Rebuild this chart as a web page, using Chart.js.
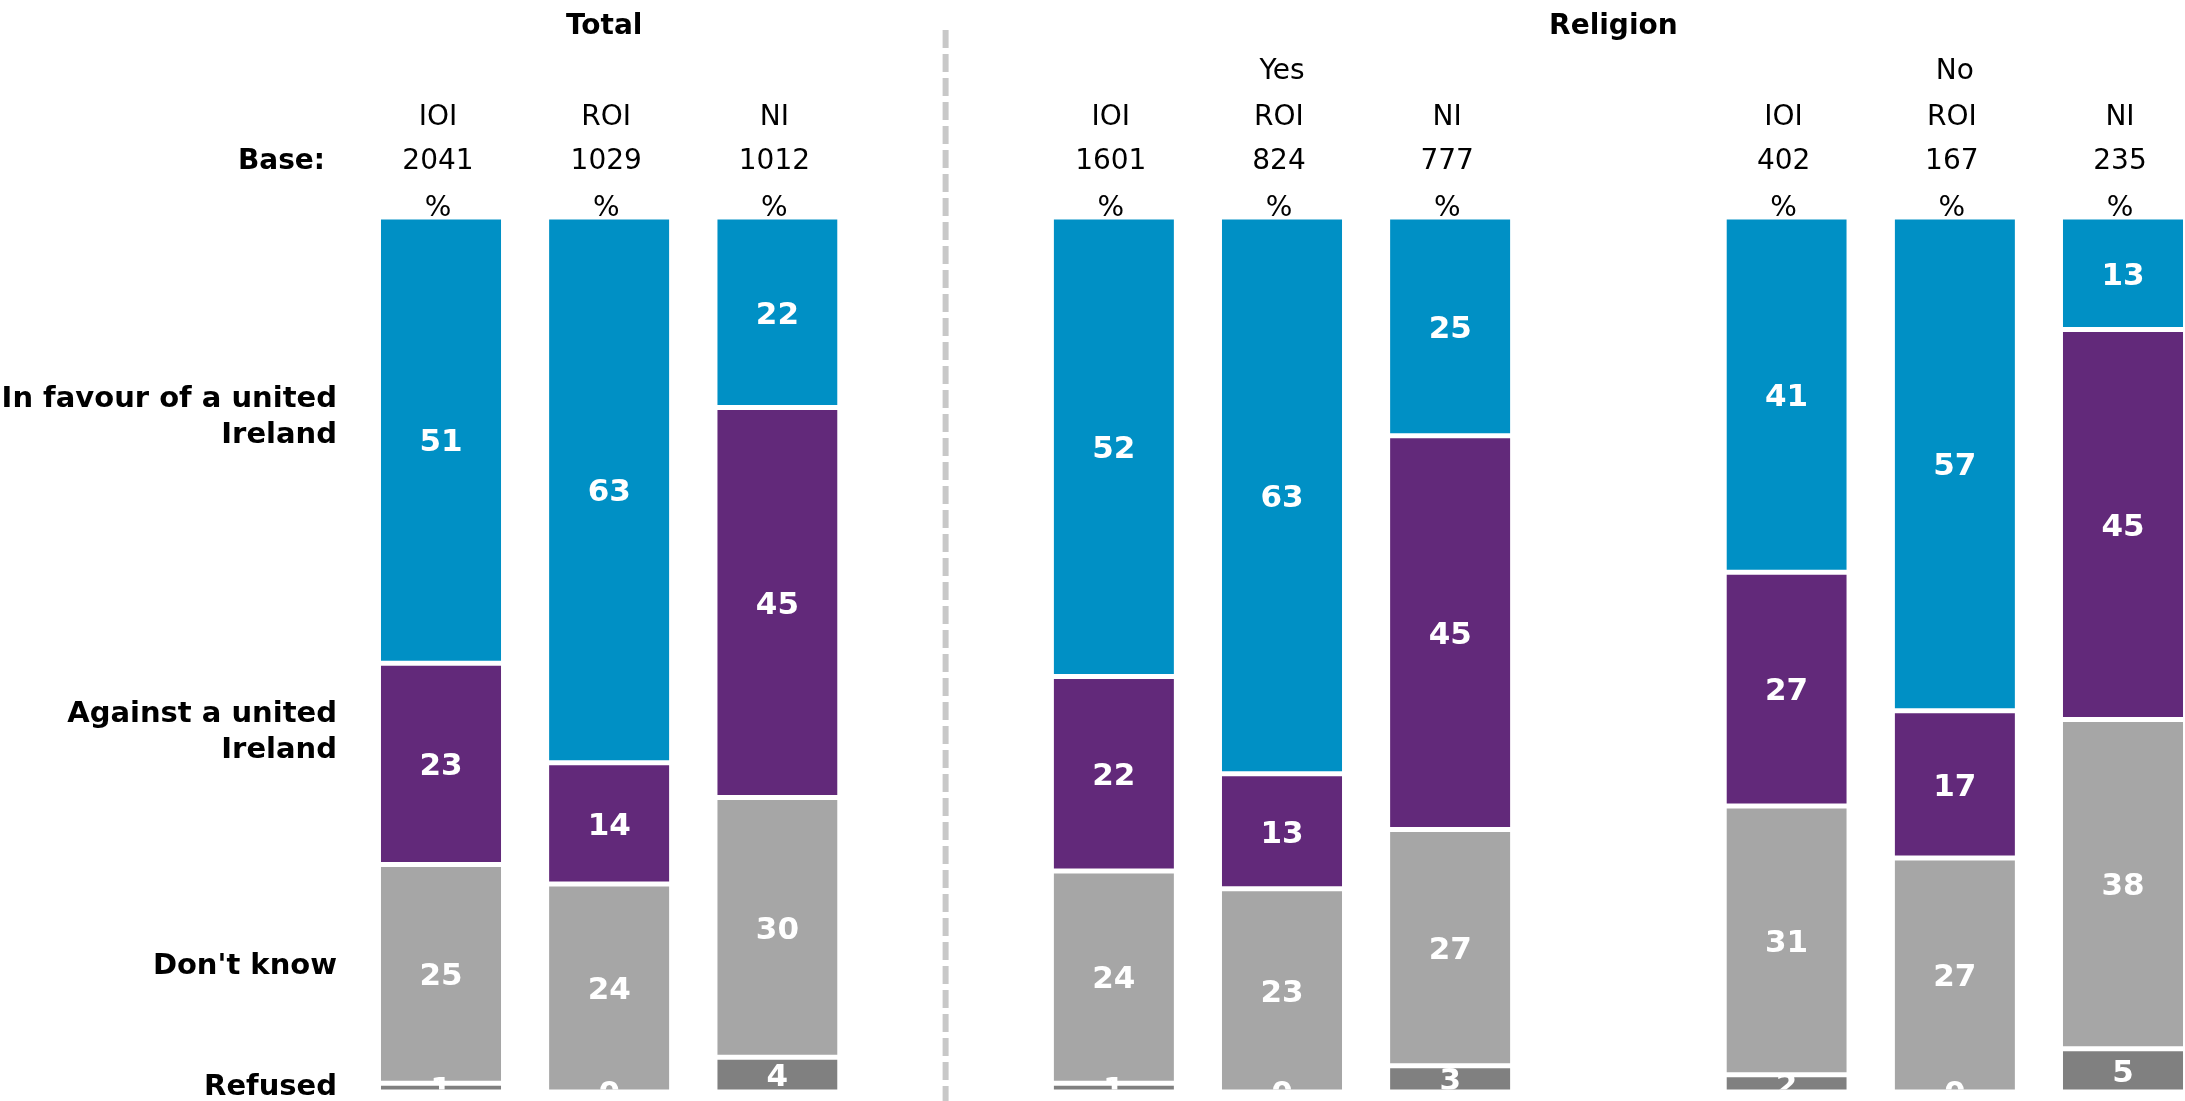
<!DOCTYPE html>
<html>
<head>
<meta charset="utf-8">
<script src="https://cdn.jsdelivr.net/npm/chart.js@4.4.1/dist/chart.umd.min.js"></script>
<style>
  html, body { margin: 0; padding: 0; background: #fff; overflow: hidden; }
  canvas { display: block; }
</style>
</head>
<body>
<canvas id="unitedChart" width="2185" height="1101"></canvas>
<script>
// columns: empty strings are the gaps between groups
const columns = ['IOI', 'ROI', 'NI', '', 'IOI', 'ROI', 'NI', '', 'IOI', 'ROI', 'NI'];
const bases = [2041, 1029, 1012, null, 1601, 824, 777, null, 402, 167, 235];
const favour = [51, 63, 22, null, 52, 63, 25, null, 41, 57, 13];
const against = [23, 14, 45, null, 22, 13, 45, null, 27, 17, 45];
const dontKnow = [25, 24, 30, null, 24, 23, 27, null, 31, 27, 38];
const refused = [1, 0, 4, null, 1, 0, 3, null, 2, 0, 5];
const answers = ['In favour of a united Ireland', 'Against a united Ireland', "Don't know", 'Refused'];
const titles = ['Total', 'Religion'];
const subGroups = ['', 'Yes', 'No'];
const titleGroups = [[0], [1, 2]];   // which column groups each title covers
const colours = ['#0090C5', '#62297A', '#A6A6A6', '#808080'];

// bottom to top
const stackOrder = [refused, dontKnow, against, favour];
const stackNames = [answers[3], answers[2], answers[1], answers[0]];
const stackColours = [colours[3], colours[2], colours[1], colours[0]];

const totals = columns.map((c, i) => stackOrder.reduce((s, arr) => s + (arr[i] ?? 0), 0));
const toShare = arr => arr.map((v, i) => v == null ? null : v / totals[i] * 100);

// group column indices
const groups = [];
let cur = [];
columns.forEach((c, i) => {
  if (c === '') { groups.push(cur); cur = []; } else cur.push(i);
});
groups.push(cur);

const FONT = 'Verdana, "DejaVu Sans", sans-serif';

function wrap(ctx, text, maxW) {
  const words = text.split(' ');
  const lines = [];
  let line = '';
  words.forEach(w => {
    const test = line ? line + ' ' + w : w;
    if (ctx.measureText(test).width > maxW && line) { lines.push(line); line = w; }
    else line = test;
  });
  lines.push(line);
  return lines;
}

const overlay = {
  id: 'overlay',
  beforeDatasetsDraw(chart) {
    const { ctx, scales: { x } } = chart;
    // dashed divider at first gap
    const gx = x.getPixelForValue(columns.indexOf(''));
    ctx.save();
    ctx.strokeStyle = '#c8c8c8';
    ctx.lineWidth = 6;
    ctx.setLineDash([18, 6]);
    ctx.beginPath();
    ctx.moveTo(gx, 30);
    ctx.lineTo(gx, chart.height);
    ctx.stroke();
    ctx.restore();
  },
  afterDatasetsDraw(chart) {
    const { ctx, chartArea, scales: { x } } = chart;
    const mid = g => (x.getPixelForValue(g[0]) + x.getPixelForValue(g[g.length - 1])) / 2;
    ctx.save();
    ctx.fillStyle = '#000';
    ctx.textAlign = 'center';
    ctx.textBaseline = 'alphabetic';

    // titles
    ctx.font = 'bold 28px ' + FONT;
    titleGroups.forEach((gs, t) => {
      const cx = (mid(groups[gs[0]]) + mid(groups[gs[gs.length - 1]])) / 2;
      ctx.fillText(titles[t], cx - 5, 34);
    });
    ctx.font = '28px ' + FONT;
    groups.forEach((g, k) => {
      if (subGroups[k]) ctx.fillText(subGroups[k], mid(g), 79);
    });
    columns.forEach((c, i) => {
      if (!c) return;
      const px = x.getPixelForValue(i);
      ctx.fillText(c, px - 3, 125);
      ctx.fillText(String(bases[i]), px - 3, 169);
      ctx.fillText('%', px - 3, 216);
    });
    ctx.font = 'bold 28px ' + FONT;
    ctx.textAlign = 'right';
    ctx.fillText('Base:', 325, 169);

    // row labels, placed at the mean segment centre of the first group
    ctx.font = 'bold 29px ' + FONT;
    stackNames.forEach((name, d) => {
      const meta = chart.getDatasetMeta(d);
      const ys = groups[0].map(i => (meta.data[i].y + meta.data[i].base) / 2);
      const cy = ys.reduce((a, b) => a + b, 0) / ys.length;
      const lines = wrap(ctx, name, 345);
      lines.forEach((ln, k) => {
        ctx.fillText(ln, 337, cy + 10.5 + (k - (lines.length - 1) / 2) * 36);
      });
    });
    ctx.restore();

    // value labels inside segments
    ctx.save();
    ctx.beginPath();
    ctx.rect(0, 0, chart.width, chartArea.bottom - 2.5);
    ctx.clip();
    ctx.fillStyle = '#fff';
    ctx.font = 'bold 31px ' + FONT;
    ctx.textAlign = 'center';
    chart.data.datasets.forEach((ds, d) => {
      const meta = chart.getDatasetMeta(d);
      meta.data.forEach((bar, i) => {
        const v = ds.raw[i];
        if (v == null) return;
        const cy = (bar.y + bar.base) / 2;
        ctx.fillText(String(v), bar.x, cy + 11.3);
      });
    });
    ctx.restore();
  }
};

new Chart(document.getElementById('unitedChart').getContext('2d'), {
  type: 'bar',
  data: {
    labels: columns,
    datasets: stackOrder.map((arr, d) => ({
      label: stackNames[d],
      data: toShare(arr),
      raw: arr,
      backgroundColor: stackColours[d],
      borderColor: '#fff',
      borderWidth: { top: 2.5, bottom: 2.5, left: 0, right: 0 },
      borderSkipped: false,
      barPercentage: 0.715,
      categoryPercentage: 1,
      clip: false
    }))
  },
  options: {
    responsive: false,
    animation: false,
    layout: { padding: { left: 441, right: 62, top: 217, bottom: 9 } },
    plugins: { legend: { display: false }, tooltip: { enabled: false } },
    scales: {
      x: { stacked: true, offset: false, display: false },
      y: { stacked: true, min: 0, max: 100, display: false }
    }
  },
  plugins: [overlay]
});
</script>
</body>
</html>
